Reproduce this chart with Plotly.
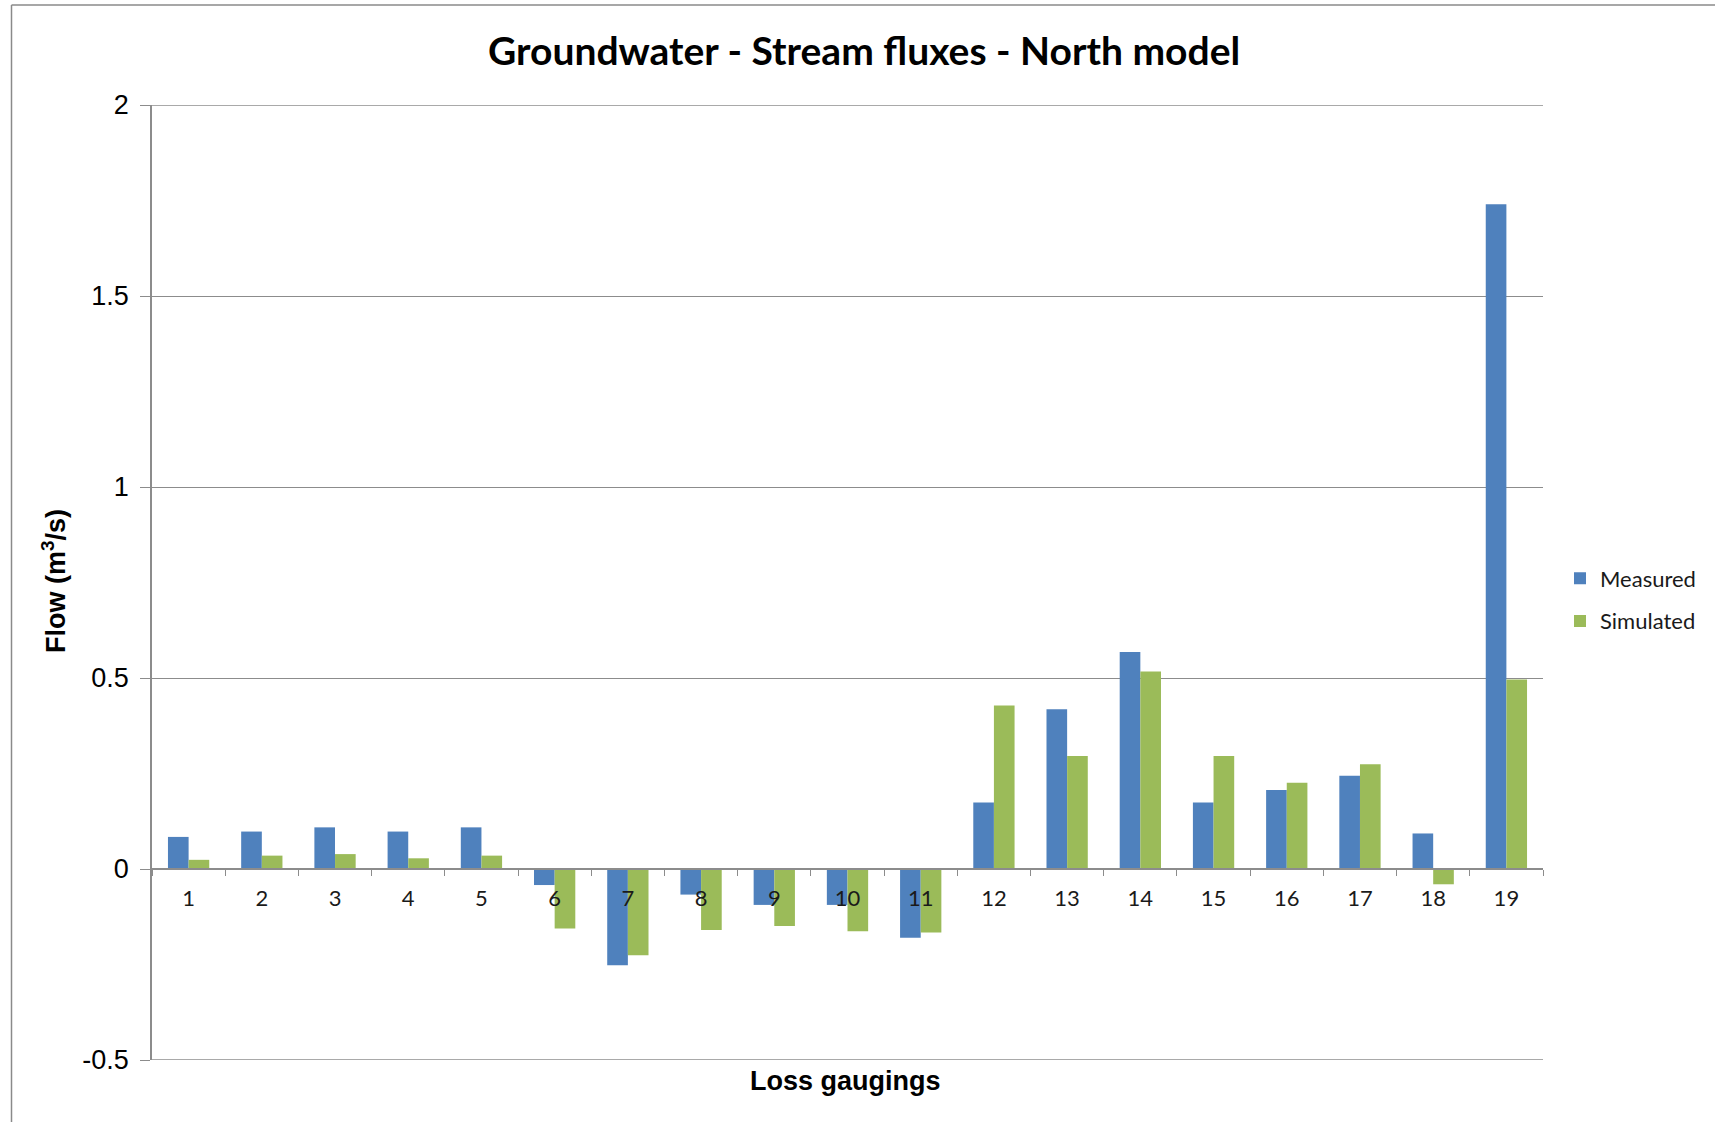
import plotly.graph_objects as go

categories = [str(i) for i in range(1, 20)]
measured = [0.084, 0.098, 0.109, 0.098, 0.109, -0.042, -0.252, -0.067, -0.094, -0.094,
            -0.180, 0.174, 0.418, 0.568, 0.174, 0.207, 0.244, 0.093, 1.740]
simulated = [0.024, 0.035, 0.039, 0.028, 0.035, -0.156, -0.226, -0.160, -0.149, -0.163,
             -0.166, 0.428, 0.296, 0.517, 0.296, 0.226, 0.274, -0.040, 0.496]
y_ticks = [-0.5, 0, 0.5, 1, 1.5, 2]
y_tick_labels = ["-0.5", "0", "0.5", "1", "1.5", "2"]
y_range = [-0.5, 2]

W, H = 1715, 1122
L, R, T, B = 152, 172, 105, 62
pw, ph = W - L - R, H - T - B

def px(x):
    return (x - L) / pw

def py(y):
    return (H - B - y) / ph

fig = go.Figure()
fig.add_trace(go.Bar(x=categories, y=measured, name="Measured", marker_color="#4F81BD",
                     marker_line_width=0, legendgroup="m"))
fig.add_trace(go.Bar(x=categories, y=simulated, name="Simulated", marker_color="#9BBB59",
                     marker_line_width=0, legendgroup="s"))

grid = "#8c8c8c"
edge_grid = [dict(type="line", xref="paper", yref="y", x0=0, x1=1, y0=v, y1=v,
                  line=dict(color=grid, width=1.3), layer="below")
             for v in y_range]

fig.update_layout(
    width=W, height=H,
    margin=dict(l=L, r=R, t=T, b=B),
    paper_bgcolor="white", plot_bgcolor="white",
    barmode="group", bargap=0.436, bargroupgap=0,
    showlegend=True,
    legend=dict(x=px(1560), xanchor="left", y=py(600), yanchor="middle",
                font=dict(family="Lato, Calibri, sans-serif", size=22, color="#1a1a1a"),
                itemwidth=30, tracegroupgap=11, bgcolor="rgba(0,0,0,0)"),
    xaxis=dict(type="category", anchor="free", position=0.2,
               showline=True, linecolor=grid, linewidth=1.5,
               ticks="outside", ticklen=6, tickcolor=grid, tickson="boundaries",
               showgrid=False, zeroline=False, ticklabelstandoff=10,
               tickfont=dict(family="Lato, Calibri, sans-serif", size=22, color="#1a1a1a")),
    yaxis=dict(range=y_range, tickvals=y_ticks, ticktext=y_tick_labels,
               showgrid=True, gridcolor=grid, gridwidth=1.3,
               zeroline=False, showline=True, linecolor=grid, linewidth=1.5,
               ticks="outside", ticklen=10, tickcolor=grid,
               tickfont=dict(family="Liberation Sans, Arial, sans-serif", size=27, color="#000"),
               ticklabelstandoff=6),
    annotations=[
        dict(text="<b>Groundwater - Stream fluxes - North model</b>", xref="paper", yref="paper",
             x=px(864), y=py(50), xanchor="center", yanchor="middle", showarrow=False,
             font=dict(family="Lato, Calibri, sans-serif", size=39, color="#000")),
        dict(text="<b>Loss gaugings</b>", xref="paper", yref="paper",
             x=px(845), y=py(1081), xanchor="center", yanchor="middle", showarrow=False,
             font=dict(family="Liberation Sans Narrow, Liberation Sans, Arial, sans-serif", size=27, color="#000")),
        dict(text="<b>Flow (m<sup>3</sup>/s)</b>", xref="paper", yref="paper",
             x=px(54), y=py(581), xanchor="center", yanchor="middle", showarrow=False, textangle=-90,
             font=dict(family="Liberation Sans Narrow, Liberation Sans, Arial, sans-serif", size=27, color="#000")),
    ],
    shapes=edge_grid + [
        dict(type="line", xref="paper", yref="paper", x0=px(11.5), x1=px(11.5), y0=py(5), y1=py(1130),
             line=dict(color="#8a8a8a", width=1.5)),
        dict(type="line", xref="paper", yref="paper", x0=px(11.5), x1=px(1720), y0=py(5), y1=py(5),
             line=dict(color="#8a8a8a", width=1.5)),
    ],
)

fig.write_html("out.html")
